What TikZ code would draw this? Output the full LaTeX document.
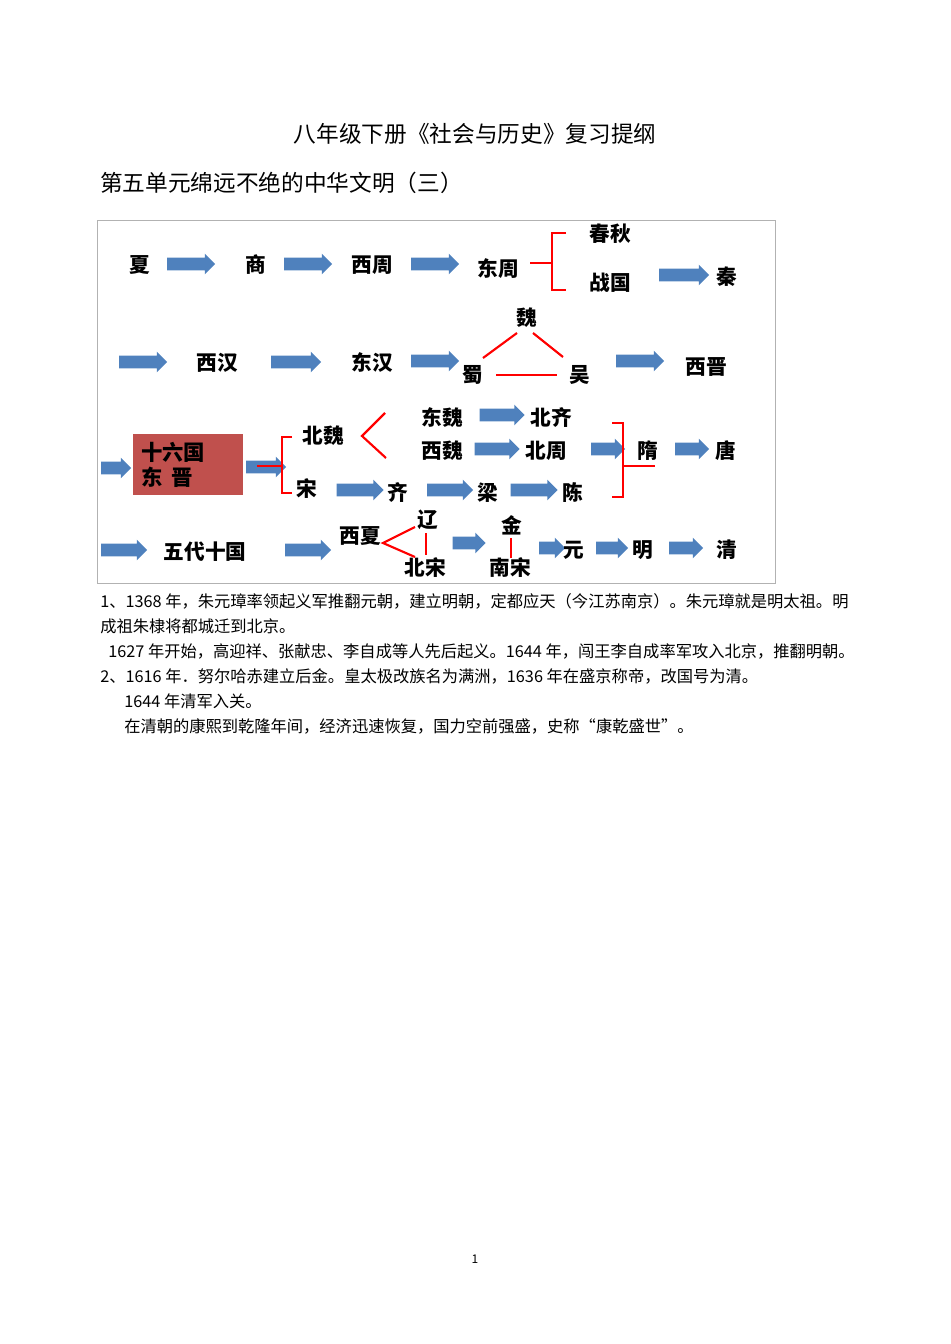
\documentclass[tikz,border=0pt]{standalone}
\usepackage{fontspec}
\setmainfont{Noto Sans CJK SC}
\usetikzlibrary{shapes.arrows}
\definecolor{arrowblue}{HTML}{4F81BD}
\definecolor{boxred}{HTML}{C0504D}
\tikzset{
 ar/.style={single arrow, fill=arrowblue, draw=none, inner xsep=0pt, inner ysep=4.5pt, minimum width=0pt, single arrow head extend=3pt, single arrow head indent=0pt, font=\fontsize{1}{1}\selectfont},
 lb/.style={font=\fontsize{15.5}{15.5}\selectfont\bfseries, inner sep=0},
 rl/.style={draw=red, line width=1.6pt},
 tx/.style={anchor=west, font=\fontsize{12.2}{13}\selectfont, inner sep=0}
}
\newcommand{\arw}[3]{\node[ar, minimum height=#3*0.75pt] (#1) at (#2) {};}
\begin{document}
\begin{tikzpicture}[x=0.75pt,y=-0.75pt]
\useasboundingbox (0,0) rectangle (950,1344);
\node[font=\fontsize{17}{17}\selectfont] (title) at (475,134) {八年级下册《社会与历史》复习提纲};
\node[anchor=west,font=\fontsize{17}{17}\selectfont,inner sep=0] (sub) at (100,183) {第五单元绵远不绝的中华文明（三）};
\draw[gray!60] (97,220) rectangle (775,583);
% row 1
\node[lb] (xia) at (140,265) {夏};
\arw{a1}{188,264}{48}
\node[lb] (shang) at (256,265) {商};
\arw{a2}{305,264}{48}
\node[lb] (xz) at (372,265) {西周};
\arw{a3}{432,264}{48}
\node[lb] (dz) at (498,269) {东周};
\node[lb] (cq) at (610,234) {春秋};
\node[lb] (zg) at (610,283) {战国};
\draw[rl] (530,263) -- (552,263);
\draw[rl] (566,233) -- (552,233) -- (552,290) -- (566,290);
\arw{a4}{681,275}{50}
\node[lb] (qin) at (727,277) {秦};
% row 2
\arw{b1}{140,362}{48}
\node[lb] (xh) at (217,363) {西汉};
\arw{b2}{293,362}{50}
\node[lb] (dh) at (372,363) {东汉};
\arw{b3}{432,361}{48}
\node[lb] (wei) at (527,318) {魏};
\node[lb] (shu) at (473,375) {蜀};
\node[lb] (wu) at (580,375) {吴};
\draw[rl] (483,358) -- (517,333);
\draw[rl] (533,333) -- (563,357);
\draw[rl] (496,375) -- (557,375);
\arw{b4}{637,361}{48}
\node[lb] (xj) at (706,367) {西晋};
% row 3
\arw{c1}{113,468}{30}
\node[fill=boxred, minimum width=110*0.75pt, minimum height=61*0.75pt, inner sep=0] (box) at (188,464.5) {};
\node[lb, align=left, anchor=west, font=\fontsize{16}{16}\selectfont\bfseries] (boxt) at (141,465) {十六国\\[3pt]东\ \,晋};
\arw{c2}{263,467}{40}
\draw[rl] (257,466) -- (282,466);
\draw[rl] (292,437) -- (282,437) -- (282,493) -- (292,493);
\node[lb] (bw) at (323,436) {北魏};
\draw[rl] (385,413) -- (362,436) -- (386,458);
\node[lb] (dw) at (442,418) {东魏};
\arw{c3}{499,415}{45}
\node[lb] (bq) at (551,418) {北齐};
\node[lb] (xw) at (442,451) {西魏};
\arw{c4}{494,449}{45}
\node[lb] (bz) at (546,451) {北周};
\arw{c5}{605,449}{34}
\draw[rl] (612,423) -- (623,423) -- (623,497) -- (612,497);
\draw[rl] (623,466) -- (655,466);
\node[lb] (sui) at (648,451) {隋};
\arw{c6}{689,449}{34}
\node[lb] (tang) at (726,451) {唐};
\node[lb] (song) at (307,489) {宋};
\arw{c7}{357,490}{47}
\node[lb] (qi) at (398,493) {齐};
\arw{c8}{447,490}{46}
\node[lb] (liang) at (488,493) {梁};
\arw{c9}{531,490}{47}
\node[lb] (chen) at (573,493) {陈};
% row 4
\arw{d1}{121,550}{46}
\node[lb] (wd) at (205,552) {五代十国};
\arw{d2}{305,550}{46}
\node[lb] (xx) at (360,536) {西夏};
\node[lb] (liao) at (428,520) {辽};
\node[lb] (bs) at (425,568) {北宋};
\draw[rl] (415,527) -- (383,543) -- (415,557);
\draw[rl] (426,533) -- (426,555);
\arw{d3}{466,543}{33}
\node[lb] (jin) at (512,525) {金};
\node[lb] (ns) at (510,568) {南宋};
\draw[rl] (511,538) -- (511,558);
\arw{d4}{549,548}{26}
\node[lb] (yuan) at (574,550) {元};
\arw{d5}{609,548}{32}
\node[lb] (ming) at (643,550) {明};
\arw{d6}{683,548}{34}
\node[lb] (qing) at (727,550) {清};
% text
\node[tx] (t1) at (100,601) {1、1368 年，朱元璋率领起义军推翻元朝，建立明朝，定都应天（今江苏南京）。朱元璋就是明太祖。明};
\node[tx] (t2) at (100,626) {成祖朱棣将都城迁到北京。};
\node[tx] (t3) at (108,651) {1627 年开始，高迎祥、张献忠、李自成等人先后起义。1644 年，闯王李自成率军攻入北京，推翻明朝。};
\node[tx] (t4) at (100,676) {2、1616 年．努尔哈赤建立后金。皇太极改族名为满洲，1636 年在盛京称帝，改国号为清。};
\node[tx] (t5) at (124,701) {1644 年清军入关。};
\node[tx] (t6) at (124,726) {在清朝的康熙到乾隆年间，经济迅速恢复，国力空前强盛，史称“康乾盛世”。};
\node[font=\fontsize{9}{9}\selectfont] (pg) at (475,1259) {1};
\end{tikzpicture}
\end{document}
